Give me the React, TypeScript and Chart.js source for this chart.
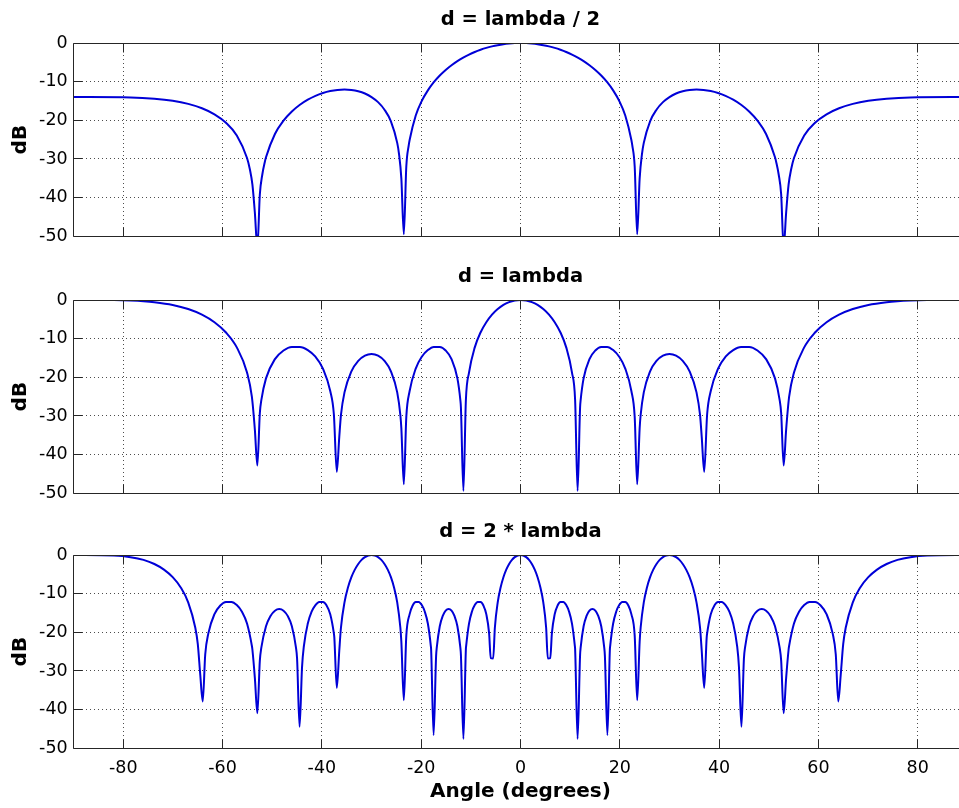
import React, { useEffect, useRef } from "react";
import { Chart, registerables } from "chart.js";

Chart.register(...registerables);

const xTicks = [-80, -60, -40, -20, 0, 20, 40, 60, 80];
const yTicks = [-50, -40, -30, -20, -10, 0];
const titles = ["d = lambda / 2", "d = lambda", "d = 2 * lambda"];
const xLabel = "Angle (degrees)";
const yLabel = "dB";

// d = lambda / 2
const angles1 = [
  -90, -78.52, -73.74, -70.05, -66.93, -64.16, -61.64, -59.32, -57.14, -55.08, -54.5, -54.0, -53.5, -53.0, -52.5, -52.0,
  -51.5, -51.26, -49.46, -47.73, -46.05, -44.43, -42.84, -41.3, -39.79, -38.32, -36.87, -35.45, -34.06, -32.68, -31.33,
  -30.0, -28.69, -27.39, -26.1, -24.83, -24.5, -24.0, -23.5, -23.0, -22.5, -22.33, -21.1, -19.88, -18.66, -17.46,
  -16.26, -15.07, -13.89, -12.71, -11.54, -10.37, -9.21, -8.05, -6.89, -5.74, -4.59, -3.44, -2.29, -1.15, 0,
  1.15, 2.29, 3.44, 4.59, 5.74, 6.89, 8.05, 9.21, 10.37, 11.54, 12.71, 13.89, 15.07, 16.26, 17.46, 18.66, 19.88, 21.1,
  22.33, 22.5, 23.0, 23.5, 24.0, 24.5, 24.83, 26.1, 27.39, 28.69, 30.0, 31.33, 32.68, 34.06, 35.45, 36.87, 38.32,
  39.79, 41.3, 42.84, 44.43, 46.05, 47.73, 49.46, 51.26, 51.5, 52.0, 52.5, 53.0, 53.5, 54.0, 54.5, 55.08, 57.14,
  59.32, 61.64, 64.16, 66.93, 70.05, 73.74, 78.52, 90,
];
const db1 = [
  -13.98, -14.08, -14.4, -14.94, -15.75, -16.88, -18.44, -20.63, -23.9, -29.74, -32.73, -36.59, -43.93, -52.94, -39.16,
  -34.02, -30.78, -29.56, -23.55, -20.09, -17.73, -15.99, -14.67, -13.68, -12.95, -12.44, -12.14, -12.04, -12.15,
  -12.48, -13.07, -13.98, -15.3, -17.25, -20.27, -25.84, -28.41, -35.02, -49.5, -31.95, -26.38, -25.09, -18.76,
  -14.97, -12.25, -10.13, -8.4, -6.96, -5.74, -4.68, -3.78, -3.0, -2.33, -1.76, -1.27, -0.88, -0.56, -0.31, -0.14,
  -0.03, 0,
  -0.03, -0.14, -0.31, -0.56, -0.88, -1.27, -1.76, -2.33, -3.0, -3.78, -4.68, -5.74, -6.96, -8.4, -10.13, -12.25,
  -14.97, -18.76, -25.09, -26.38, -31.95, -49.5, -35.02, -28.41, -25.84, -20.27, -17.25, -15.3, -13.98, -13.07, -12.48,
  -12.15, -12.04, -12.14, -12.44, -12.95, -13.68, -14.67, -15.99, -17.73, -20.09, -23.55, -29.56, -30.78, -34.02,
  -39.16, -52.94, -43.93, -36.59, -32.73, -29.74, -23.9, -20.63, -18.44, -16.88, -15.75, -14.94, -14.4, -14.08, -13.98,
];

// d = lambda
const angles2 = [
  -90, -81.89, -78.52, -75.93, -73.74, -70.05, -66.93, -64.16, -61.64, -59.32, -57.14, -55.08, -54.1, -53.5, -53.0,
  -52.5, -52.19, -51.26, -49.46, -47.73, -46.05, -44.43, -42.84, -41.3, -39.79, -38.32, -37.59, -37.0, -36.5, -36.16,
  -35.45, -34.06, -32.68, -31.33, -30.0, -28.69, -27.39, -26.1, -24.83, -24.2, -24.0, -23.5, -23.0, -22.33, -21.1,
  -19.88, -18.66, -17.46, -16.26, -15.07, -13.89, -12.71, -12.12, -12.0, -11.5, -11.0, -10.37, -9.21, -8.05, -6.89,
  -5.74, -4.59, -3.44, -2.29, -1.15, 0,
  1.15, 2.29, 3.44, 4.59, 5.74, 6.89, 8.05, 9.21, 10.37, 11.0, 11.5, 12.0, 12.12, 12.71, 13.89, 15.07, 16.26, 17.46,
  18.66, 19.88, 21.1, 22.33, 23.0, 23.5, 24.0, 24.2, 24.83, 26.1, 27.39, 28.69, 30.0, 31.33, 32.68, 34.06, 35.45, 36.16,
  36.5, 37.0, 37.59, 38.32, 39.79, 41.3, 42.84, 44.43, 46.05, 47.73, 49.46, 51.26, 52.19, 52.5, 53.0, 53.5, 54.1, 55.08,
  57.14, 59.32, 61.64, 64.16, 66.93, 70.05, 73.74, 75.93, 78.52, 81.89, 90,
];
const db2 = [
  0, -0.03, -0.14, -0.31, -0.56, -1.27, -2.33, -3.78, -5.74, -8.4, -12.25, -18.76, -25.09, -33.58, -42.8, -29.25,
  -25.84, -20.27, -15.3, -13.07, -12.15, -12.14, -12.95, -14.67, -17.73, -23.55, -29.56, -44.43, -35.39, -29.74, -23.9,
  -18.44, -15.75, -14.4, -13.98, -14.4, -15.75, -18.44, -23.9, -29.74, -33.13, -47.66, -30.22, -23.55, -17.73, -14.67,
  -12.95, -12.14, -12.15, -13.07, -15.3, -20.27, -25.84, -27.79, -49.4, -25.85, -18.76, -12.25, -8.4, -5.74, -3.78,
  -2.33, -1.27, -0.56, -0.14, 0,
  -0.14, -0.56, -1.27, -2.33, -3.78, -5.74, -8.4, -12.25, -18.76, -25.85, -49.4, -27.79, -25.84, -20.27, -15.3, -13.07,
  -12.15, -12.14, -12.95, -14.67, -17.73, -23.55, -30.22, -47.66, -33.13, -29.74, -23.9, -18.44, -15.75, -14.4, -13.98,
  -14.4, -15.75, -18.44, -23.9, -29.74, -35.39, -44.43, -29.56, -23.55, -17.73, -14.67, -12.95, -12.14, -12.15, -13.07,
  -15.3, -20.27, -25.84, -29.25, -42.8, -33.58, -25.09, -18.76, -12.25, -8.4, -5.74, -3.78, -2.33, -1.27, -0.56, -0.31,
  -0.14, -0.03, 0,
];

// d = 2 * lambda
const angles3 = [
  -90, -81.89, -78.52, -75.93, -73.74, -71.81, -70.05, -68.43, -66.93, -65.51, -65.0, -64.5, -64.0, -63.5, -62.87,
  -61.64, -60.46, -59.32, -58.21, -57.14, -56.1, -55.08, -54.1, -54.0, -53.5, -53.0, -52.5, -52.19, -51.26, -50.35,
  -49.46, -48.59, -47.73, -46.89, -46.05, -45.23, -45.0, -44.5, -44.0, -43.63, -42.84, -42.07, -41.3, -40.54, -39.79,
  -39.05, -38.32, -37.59, -37.5, -37.0, -36.5, -36.16, -35.45, -34.75, -34.06, -33.37, -32.68, -32.01, -31.33, -30.66,
  -30.0, -29.34, -28.69, -28.03, -27.39, -26.74, -26.1, -25.47, -24.83, -24.2, -24.0, -23.5, -23.0, -22.33, -21.72,
  -21.1, -20.49, -19.88, -19.27, -18.66, -18.06, -18.0, -17.5, -17.0, -16.86, -16.26, -15.66, -15.07, -14.48, -13.89,
  -13.3, -12.71, -12.12, -12.0, -11.5, -11.0, -10.95, -10.37, -9.79, -9.21, -8.63, -8.05, -7.47, -6.89, -6.32, -6.0,
  -5.5, -5.16, -4.59, -4.01, -3.44, -2.87, -2.29, -1.72, -1.15, -0.57, 0,
  0.57, 1.15, 1.72, 2.29, 2.87, 3.44, 4.01, 4.59, 5.16, 5.5, 6.0, 6.32, 6.89, 7.47, 8.05, 8.63, 9.21, 9.79, 10.37,
  10.95, 11.0, 11.5, 12.0, 12.12, 12.71, 13.3, 13.89, 14.48, 15.07, 15.66, 16.26, 16.86, 17.0, 17.5, 18.0, 18.06, 18.66,
  19.27, 19.88, 20.49, 21.1, 21.72, 22.33, 23.0, 23.5, 24.0, 24.2, 24.83, 25.47, 26.1, 26.74, 27.39, 28.03, 28.69,
  29.34, 30.0, 30.66, 31.33, 32.01, 32.68, 33.37, 34.06, 34.75, 35.45, 36.16, 36.5, 37.0, 37.5, 37.59, 38.32, 39.05,
  39.79, 40.54, 41.3, 42.07, 42.84, 43.63, 44.0, 44.5, 45.0, 45.23, 46.05, 46.89, 47.73, 48.59, 49.46, 50.35, 51.26,
  52.19, 52.5, 53.0, 53.5, 54.0, 54.1, 55.08, 56.1, 57.14, 58.21, 59.32, 60.46, 61.64, 62.87, 63.5, 64.0, 64.5, 65.0,
  65.51, 66.93, 68.43, 70.05, 71.81, 73.74, 75.93, 78.52, 81.89, 90,
];
const db3 = [
  0, -0.14, -0.56, -1.27, -2.33, -3.78, -5.74, -8.4, -12.25, -18.76, -22.99, -30.98, -37.89, -25.73, -20.27, -15.3,
  -13.07, -12.15, -12.14, -12.95, -14.67, -17.73, -23.55, -24.44, -31.83, -40.93, -27.32, -23.9, -18.44, -15.75, -14.4,
  -13.98, -14.4, -15.75, -18.44, -23.9, -26.76, -44.45, -28.99, -23.55, -17.73, -14.67, -12.95, -12.14, -12.15, -13.07,
  -15.3, -20.27, -21.3, -34.38, -24.77, -18.76, -12.25, -8.4, -5.74, -3.78, -2.33, -1.27, -0.56, -0.14, 0, -0.14,
  -0.56, -1.27, -2.33, -3.78, -5.74, -8.4, -12.25, -18.76, -22.39, -37.57, -20.86, -15.3, -13.07, -12.15, -12.14,
  -12.95, -14.67, -17.73, -23.55, -24.44, -46.61, -26.16, -23.9, -18.44, -15.75, -14.4, -13.98, -14.4, -15.75, -18.44,
  -23.9, -25.85, -47.58, -24.28, -23.55, -17.73, -14.67, -12.95, -12.14, -12.15, -13.07, -15.3, -20.27, -26.66, -26.75,
  -18.76, -12.25, -8.4, -5.74, -3.78, -2.33, -1.27, -0.56, -0.14, 0,
  -0.14, -0.56, -1.27, -2.33, -3.78, -5.74, -8.4, -12.25, -18.76, -26.75, -26.66, -20.27, -15.3, -13.07, -12.15,
  -12.14, -12.95, -14.67, -17.73, -23.55, -24.28, -47.58, -25.85, -23.9, -18.44, -15.75, -14.4, -13.98, -14.4, -15.75,
  -18.44, -23.9, -26.16, -46.61, -24.44, -23.55, -17.73, -14.67, -12.95, -12.14, -12.15, -13.07, -15.3, -20.86, -37.57,
  -22.39, -18.76, -12.25, -8.4, -5.74, -3.78, -2.33, -1.27, -0.56, -0.14, 0, -0.14, -0.56, -1.27, -2.33, -3.78, -5.74,
  -8.4, -12.25, -18.76, -24.77, -34.38, -21.3, -20.27, -15.3, -13.07, -12.15, -12.14, -12.95, -14.67, -17.73, -23.55,
  -28.99, -44.45, -26.76, -23.9, -18.44, -15.75, -14.4, -13.98, -14.4, -15.75, -18.44, -23.9, -27.32, -40.93, -31.83,
  -24.44, -23.55, -17.73, -14.67, -12.95, -12.14, -12.15, -13.07, -15.3, -20.27, -25.73, -37.89, -30.98, -22.99, -18.76,
  -12.25, -8.4, -5.74, -3.78, -2.33, -1.27, -0.56, -0.14, 0,
];

const FAMILY = "'DejaVu Sans', 'Liberation Sans', sans-serif";
const CANVAS_W = 1041;
const SIDE_W = 73.65;
const TICK_LEN = 9;

const panels = [
  { top: 0, h: 257, xh: 20.7, angles: angles1, db: db1, title: titles[0], bottom: false },
  { top: 257, h: 255, xh: 18.7, angles: angles2, db: db2, title: titles[1], bottom: false },
  { top: 512, h: 296, xh: 59.7, angles: angles3, db: db3, title: titles[2], bottom: true },
];

const align = (p: number) => Math.round(p - 0.5) + 0.5;

// MATLAB-style box: solid frame with inward tick marks on the visible sides
const matlabAxes = {
  id: "matlabAxes",
  afterDatasetsDraw(chart: any) {
    const { ctx, chartArea } = chart;
    const xs = chart.scales.x;
    const ys = chart.scales.y;
    const l = align(chartArea.left);
    const r = align(chartArea.right);
    const t = align(chartArea.top);
    const b = align(chartArea.bottom);
    ctx.save();
    ctx.strokeStyle = "#262626";
    ctx.lineWidth = 1;
    ctx.setLineDash([]);
    ctx.beginPath();
    ctx.moveTo(r, t);
    ctx.lineTo(l, t);
    ctx.lineTo(l, b);
    ctx.lineTo(r, b);
    for (const v of xTicks) {
      const px = align(xs.getPixelForValue(v));
      ctx.moveTo(px, b);
      ctx.lineTo(px, b - TICK_LEN);
      ctx.moveTo(px, t);
      ctx.lineTo(px, t + TICK_LEN);
    }
    for (const v of yTicks) {
      const py = align(ys.getPixelForValue(v));
      ctx.moveTo(l, py);
      ctx.lineTo(l + TICK_LEN, py);
    }
    ctx.stroke();
    ctx.restore();
  },
};

function makeConfig(p: (typeof panels)[number]): any {
  const tickFont = { family: FAMILY, size: 17.5, weight: "normal" as const };
  const labelFont = { family: FAMILY, size: 20, weight: "bold" as const };
  const gridOpts = { color: "#4d4d4d", lineWidth: 1, drawTicks: false };
  return {
    type: "line",
    data: {
      datasets: [
        {
          data: p.angles.map((a, i) => ({ x: a, y: p.db[i] })),
          xAxisID: "x",
          yAxisID: "y",
          borderColor: "rgb(0,0,215)",
          borderWidth: 2,
          pointRadius: 0,
          pointHoverRadius: 0,
          fill: false,
          cubicInterpolationMode: "monotone",
          borderJoinStyle: "round",
        },
      ],
    },
    options: {
      animation: false,
      responsive: true,
      maintainAspectRatio: false,
      events: [],
      layout: { padding: 0 },
      plugins: {
        legend: { display: false },
        tooltip: { enabled: false },
        title: {
          display: true,
          text: p.title,
          color: "#000",
          font: { family: FAMILY, size: 19.5, weight: "bold", lineHeight: 1.2 },
          padding: { top: 8.55, bottom: 11.05 },
        },
      },
      scales: {
        x: {
          type: "linear",
          axis: "x",
          position: "bottom",
          min: -90,
          max: 90,
          afterBuildTicks: (s: any) => {
            s.ticks = xTicks.map((v) => ({ value: v }));
          },
          afterFit: (s: any) => {
            s.height = p.xh;
          },
          ticks: {
            display: p.bottom,
            color: "#000",
            font: tickFont,
            padding: 9.2,
            maxRotation: 0,
            autoSkip: false,
            callback: (v: any) => String(v),
          },
          grid: gridOpts,
          border: { display: false, dash: [1, 3] },
          title: {
            display: p.bottom,
            text: xLabel,
            color: "#000",
            font: labelFont,
            padding: { top: 0, bottom: 4.6 },
          },
        },
        y: {
          type: "linear",
          axis: "y",
          position: "left",
          min: -50,
          max: 0,
          afterBuildTicks: (s: any) => {
            s.ticks = yTicks.map((v) => ({ value: v }));
          },
          afterFit: (s: any) => {
            s.width = SIDE_W;
          },
          ticks: {
            color: "#000",
            font: tickFont,
            padding: 6,
            autoSkip: false,
            callback: (v: any) => String(v),
          },
          grid: gridOpts,
          border: { display: false, dash: [1, 3] },
          title: {
            display: true,
            text: yLabel,
            color: "#000",
            font: labelFont,
            padding: { top: 9, bottom: 0 },
          },
        },
        yr: {
          type: "linear",
          axis: "y",
          position: "right",
          min: -50,
          max: 0,
          afterFit: (s: any) => {
            s.width = SIDE_W;
          },
          ticks: { display: false },
          grid: { display: false, drawTicks: false },
          border: { display: false },
        },
      },
    },
    plugins: [matlabAxes],
  };
}

export default function App() {
  const c0 = useRef<HTMLCanvasElement | null>(null);
  const c1 = useRef<HTMLCanvasElement | null>(null);
  const c2 = useRef<HTMLCanvasElement | null>(null);
  const refs = [c0, c1, c2];

  useEffect(() => {
    const charts: Chart[] = [];
    panels.forEach((p, i) => {
      const el = refs[i].current;
      if (el) charts.push(new Chart(el, makeConfig(p)));
    });
    return () => {
      charts.forEach((c) => c.destroy());
    };
  }, []);

  return (
    <div
      style={{
        position: "fixed",
        left: 0,
        top: 0,
        width: 959,
        height: 808,
        overflow: "hidden",
        background: "#fff",
      }}
    >
      {panels.map((p, i) => (
        <div
          key={i}
          style={{ position: "absolute", left: 0, top: p.top, width: CANVAS_W, height: p.h }}
        >
          <canvas ref={refs[i]} />
        </div>
      ))}
    </div>
  );
}
